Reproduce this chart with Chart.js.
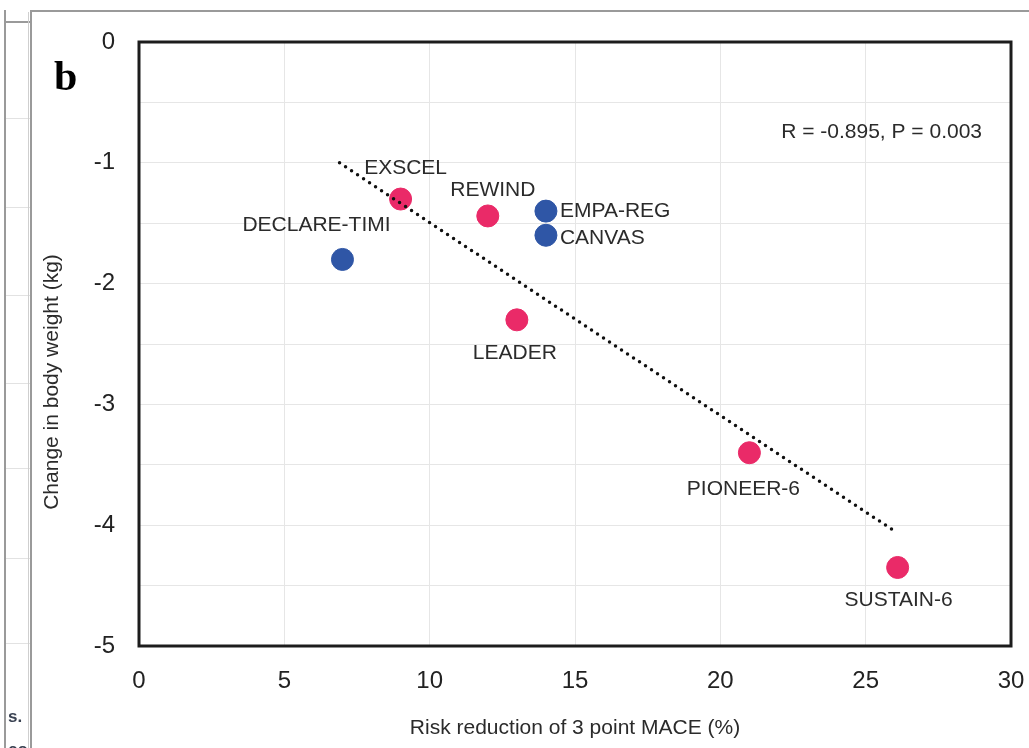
<!DOCTYPE html>
<html>
<head>
<meta charset="utf-8">
<script src="https://cdn.jsdelivr.net/npm/chart.js@4/dist/chart.umd.min.js"></script>
<style>
  html, body { margin: 0; padding: 0; background: #ffffff; }
  #wrap { width: 1029px; height: 748px; }
</style>
</head>
<body>
<div id="wrap"><canvas id="c" width="1029" height="748"></canvas></div>
<script>
// ---- data ----
const trialNames = ['DECLARE-TIMI', 'EXSCEL', 'REWIND', 'EMPA-REG', 'CANVAS', 'LEADER', 'PIONEER-6', 'SUSTAIN-6'];
const riskReduction = [7.0, 9.0, 12.0, 14.0, 14.0, 13.0, 21.0, 26.1];          // x, %
const weightChange  = [-1.8, -1.3, -1.44, -1.4, -1.6, -2.3, -3.4, -4.35];        // y, kg
const drugClass     = ['SGLT2i', 'GLP-1RA', 'GLP-1RA', 'SGLT2i', 'SGLT2i', 'GLP-1RA', 'GLP-1RA', 'GLP-1RA'];
const trendX = [6.9, 26.0];
const trendY = [-1.0, -4.05];
const xTicks = [0, 5, 10, 15, 20, 25, 30];
const yTicks = [0, -1, -2, -3, -4, -5];
const statText = 'R = -0.895, P = 0.003';
const panelLetter = 'b';
const xTitle = 'Risk reduction of 3 point MACE (%)';
const yTitle = 'Change in body weight (kg)';

// ---- styling / placement (kept apart from the data) ----
const classColor = { 'SGLT2i': '#2f56a6', 'GLP-1RA': '#ea2a68' };
const labelPlace = {
  'DECLARE-TIMI': { dx: -26, dy: -34, align: 'center' },
  'EXSCEL':       { dx: 5,   dy: -31, align: 'center' },
  'REWIND':       { dx: 5,   dy: -26, align: 'center' },
  'EMPA-REG':     { dx: 14,  dy: 0,   align: 'left' },
  'CANVAS':       { dx: 14,  dy: 3,   align: 'left' },
  'LEADER':       { dx: -2,  dy: 33,  align: 'center' },
  'PIONEER-6':    { dx: -6,  dy: 36,  align: 'center' },
  'SUSTAIN-6':    { dx: 1,   dy: 33,  align: 'center' }
};
const FONT = '"Liberation Sans", Arial, sans-serif';

function pointsFor(cls) {
  const out = [];
  trialNames.forEach((n, i) => {
    if (drugClass[i] === cls) out.push({ x: riskReduction[i], y: weightChange[i], name: n });
  });
  return out;
}

const framePlugin = {
  id: 'frame',
  beforeDraw(chart) {
    const ctx = chart.ctx;
    ctx.save();
    ctx.fillStyle = '#ffffff';
    ctx.fillRect(0, 0, chart.width, chart.height);
    // neighbouring-panel strip gridlines
    ctx.strokeStyle = '#e2e2e2';
    ctx.lineWidth = 1;
    [118, 207, 295, 383, 468, 558, 643].forEach(y => {
      ctx.beginPath(); ctx.moveTo(6, y + 0.5); ctx.lineTo(30, y + 0.5); ctx.stroke();
    });
    // outer frame lines
    ctx.strokeStyle = '#9a9a9a';
    ctx.lineWidth = 2;
    ctx.beginPath();
    ctx.moveTo(5, 10); ctx.lineTo(5, 748);
    ctx.moveTo(31, 10); ctx.lineTo(31, 748);
    ctx.moveTo(30, 11); ctx.lineTo(1029, 11);
    ctx.moveTo(5, 22); ctx.lineTo(31, 22);
    ctx.stroke();
    ctx.strokeStyle = '#cfcfcf';
    ctx.lineWidth = 1;
    ctx.beginPath();
    ctx.moveTo(28.5, 12); ctx.lineTo(28.5, 748);
    ctx.stroke();
    // clipped text fragments of neighbouring panel
    ctx.beginPath(); ctx.rect(6, 0, 23, 748); ctx.clip();
    ctx.fillStyle = '#3a4252';
    ctx.font = 'bold 17px ' + FONT;
    ctx.textBaseline = 'alphabetic';
    ctx.textAlign = 'left';
    ctx.fillText('s.', 8, 722);
    ctx.fillText('co', 8, 755);
    ctx.restore();
  },
  beforeDatasetsDraw(chart) {
    const { ctx, chartArea: a } = chart;
    ctx.save();
    ctx.strokeStyle = '#1c1c1c';
    ctx.lineWidth = 3;
    ctx.strokeRect(a.left, a.top, a.right - a.left, a.bottom - a.top);
    ctx.restore();
  },
  afterDatasetsDraw(chart) {
    const ctx = chart.ctx;
    ctx.save();
    ctx.fillStyle = '#2b2b2b';
    ctx.font = '21px ' + FONT;
    ctx.textBaseline = 'middle';
    chart.data.datasets.forEach((ds, di) => {
      if (!ds.isTrial) return;
      const meta = chart.getDatasetMeta(di);
      meta.data.forEach((el, i) => {
        const name = ds.data[i].name;
        const p = labelPlace[name];
        ctx.textAlign = p.align;
        ctx.fillText(name, el.x + p.dx, el.y + p.dy);
      });
    });
    // correlation statistic
    ctx.textAlign = 'right';
    ctx.fillText(statText, 982, 132);
    // panel letter
    ctx.font = 'bold 42px "Liberation Serif", "Times New Roman", serif';
    ctx.textAlign = 'left';
    ctx.textBaseline = 'alphabetic';
    ctx.fillStyle = '#000';
    ctx.fillText(panelLetter, 54, 90);
    // y-axis title
    ctx.translate(52, 382);
    ctx.rotate(-Math.PI / 2);
    ctx.font = '21px ' + FONT;
    ctx.fillStyle = '#2b2b2b';
    ctx.textAlign = 'center';
    ctx.textBaseline = 'middle';
    ctx.fillText(yTitle, 0, 0);
    ctx.restore();
  }
};

new Chart(document.getElementById('c'), {
  type: 'scatter',
  data: {
    datasets: [
      {
        type: 'line',
        label: 'Trend',
        data: trendX.map((x, i) => ({ x, y: trendY[i] })),
        borderColor: '#111111',
        borderWidth: 3.5,
        borderDash: [0, 7.2],
        borderCapStyle: 'round',
        pointRadius: 0,
        fill: false,
        order: 0
      },
      {
        label: 'SGLT2i',
        isTrial: true,
        data: pointsFor('SGLT2i'),
        backgroundColor: classColor['SGLT2i'],
        borderColor: classColor['SGLT2i'],
        pointRadius: 11,
        pointHoverRadius: 11,
        order: 1
      },
      {
        label: 'GLP-1RA',
        isTrial: true,
        data: pointsFor('GLP-1RA'),
        backgroundColor: classColor['GLP-1RA'],
        borderColor: classColor['GLP-1RA'],
        pointRadius: 11,
        pointHoverRadius: 11,
        order: 1
      }
    ]
  },
  options: {
    responsive: false,
    animation: false,
    events: [],
    layout: { padding: { top: 42, right: 18, left: 0, bottom: 0 } },
    plugins: { legend: { display: false }, tooltip: { enabled: false } },
    scales: {
      x: {
        type: 'linear',
        min: 0, max: 30,
        afterBuildTicks(s) { s.ticks = xTicks.map(v => ({ value: v })); },
        afterFit(s) { s.height = 102; s.paddingLeft = 0; s.paddingRight = 0; },
        ticks: { color: '#222', font: { family: FONT, size: 24 }, padding: 21, maxRotation: 0 },
        grid: { color: '#e6e6e6', lineWidth: 1, drawTicks: false },
        border: { display: false },
        title: { display: true, text: xTitle, color: '#2b2b2b', font: { family: FONT, size: 21 }, padding: { top: 0, bottom: 7 } }
      },
      y: {
        type: 'linear',
        min: -5, max: 0,
        ticks: {
          stepSize: 0.5,
          color: '#222',
          font: { family: FONT, size: 24 },
          padding: 24,
          callback: v => (yTicks.includes(v) ? String(v) : '')
        },
        afterFit(s) { s.width = 139; s.paddingTop = 0; s.paddingBottom = 0; },
        grid: { color: '#e6e6e6', lineWidth: 1, drawTicks: false },
        border: { display: false },
        title: { display: false }
      }
    }
  },
  plugins: [framePlugin]
});
</script>
</body>
</html>
